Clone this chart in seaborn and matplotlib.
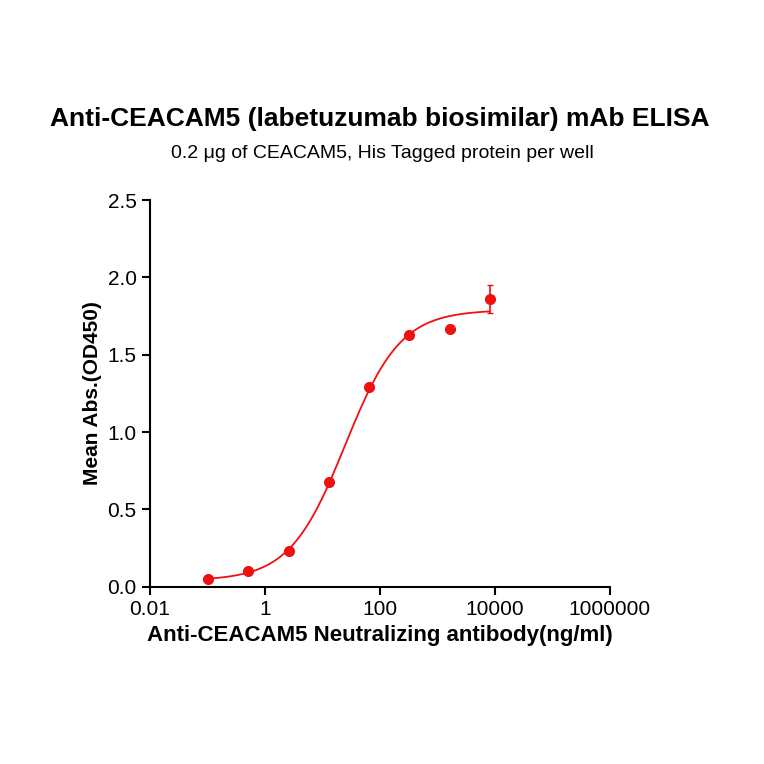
import numpy as np
import matplotlib
matplotlib.use("Agg")
import matplotlib.pyplot as plt
import seaborn as sns

conc = [0.105, 0.52, 2.6, 13, 65, 328, 1640, 8200]
od = [0.05, 0.10, 0.23, 0.68, 1.29, 1.63, 1.67, 1.86]
err = [0.01, 0.01, 0.01, 0.02, 0.02, 0.02, 0.02, 0.09]
# 4PL fit parameters
bottom, top, ec50, hill = 0.04, 1.79, 25.0, 0.9

sns.set_theme(style="ticks")
plt.rcParams['font.family'] = ['Liberation Sans', 'DejaVu Sans']
plt.rcParams['text.color'] = 'black'
plt.rcParams['axes.labelcolor'] = 'black'
plt.rcParams['xtick.color'] = 'black'
plt.rcParams['ytick.color'] = 'black'

fig = plt.figure(figsize=(7.64, 7.64), dpi=100)
ax = fig.add_axes([0.196, 0.232, 0.602, 0.506])
xs = np.logspace(np.log10(conc[0]), np.log10(conc[-1]), 300)
ys = bottom + (top - bottom) / (1 + (ec50 / xs) ** hill)
sns.lineplot(x=xs, y=ys, ax=ax, color="#f01010", lw=1.3)
ax.errorbar(conc, od, yerr=err, fmt="o", color="#f01010", ms=7, capsize=2, elinewidth=1.2)
ax.set_xscale("log")
ax.set_xlim(0.01, 1e6)
ax.set_ylim(0, 2.5)
ax.set_xticks([0.01, 1, 100, 10000, 1000000])
ax.set_xticklabels(["0.01", "1", "100", "10000", "1000000"])
ax.minorticks_off()
ax.set_yticks([0, 0.5, 1.0, 1.5, 2.0, 2.5])
ax.set_yticklabels(["0.0", "0.5", "1.0", "1.5", "2.0", "2.5"])
ax.tick_params(labelsize=15, width=1.5, length=6, color="black")
for s in ["top", "right"]:
    ax.spines[s].set_visible(False)
for s in ["left", "bottom"]:
    ax.spines[s].set_linewidth(1.5)
    ax.spines[s].set_color("black")
ax.set_xlabel("Anti-CEACAM5 Neutralizing antibody(ng/ml)", fontsize=16, fontweight="bold")
ax.set_ylabel("Mean Abs.(OD450)", fontsize=15, fontweight="bold")
fig.text(0.497, 0.835, "Anti-CEACAM5 (labetuzumab biosimilar) mAb ELISA", ha="center", fontsize=19, fontweight="bold")
fig.text(0.5, 0.793, "0.2 μg of CEACAM5, His Tagged protein per well", ha="center", fontsize=14)
fig.savefig("out.png", dpi=100)
